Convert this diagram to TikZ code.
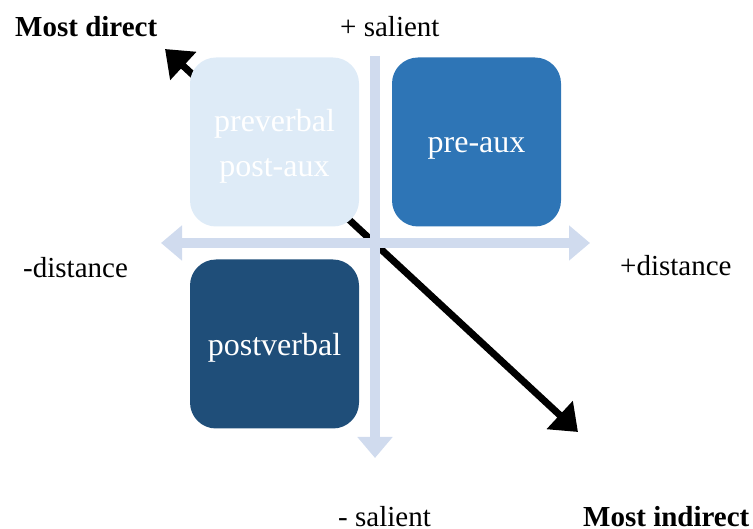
\documentclass[tikz,border=0pt]{standalone}
\usepackage{fontspec}
\setmainfont{Liberation Serif}
\usetikzlibrary{arrows.meta}

\definecolor{axisblue}{HTML}{D0DBEE}
\definecolor{palebox}{HTML}{DEEBF7}
\definecolor{midbox}{HTML}{2E75B6}
\definecolor{darkbox}{HTML}{1F4E79}

\tikzset{
  qbox/.style={draw=none, rounded corners=26pt, inner sep=0pt,
    minimum width=169pt, minimum height=169pt},
  boxtext/.style={text=white, inner sep=0pt, align=center,
    font=\fontsize{32}{45}\selectfont},
  axislabel/.style={inner sep=0pt, anchor=base west,
    font=\fontsize{29}{34}\selectfont},
  endlabel/.style={axislabel, font=\fontsize{29}{34}\selectfont\bfseries},
  axisline/.style={draw=axisblue, line width=9.5pt,
    -{Triangle[length=21pt,width=34pt]}},
  trendarrow/.style={draw=black, line width=7pt,
    {Triangle[length=25pt,width=37pt]}-{Triangle[length=25pt,width=37pt]}}
}

\begin{document}
\begin{tikzpicture}[x=1pt, y=-1pt]
  \useasboundingbox (0,0) rectangle (753,529);

  % end points of the diagonal trend and of the two axes
  \coordinate (directTip)   at (165,49);
  \coordinate (indirectTip) at (578,432);
  \coordinate (vTop)    at (375,56);
  \coordinate (vBottom) at (375,458);
  \coordinate (hLeft)   at (161,243);
  \coordinate (hRight)  at (590,243);

  % diagonal trend arrow, lying under the axes and boxes
  \draw[trendarrow] (directTip) -- (indirectTip);

  % axes
  \draw[axisline] (vTop) -- (vBottom);
  \draw[axisline, {Triangle[length=21pt,width=34pt]}-{Triangle[length=21pt,width=34pt]}] (hLeft) -- (hRight);

  % quadrant boxes
  \node[qbox, fill=palebox] (prev) at (274.5,142) {};
  \node[qbox, fill=midbox]  (preaux) at (476.5,142) {};
  \node[qbox, fill=darkbox] (postv) at (274.5,344) {};

  % box texts
  \node[boxtext] (prevtext) at (274.5,146) {preverbal\\post-aux};
  \node[boxtext, anchor=base] (preauxtext) at (476.5,153) {pre-aux};
  \node[boxtext, anchor=base] (postvtext) at (274.5,356) {postverbal};

  % axis labels
  \node[endlabel]  (mostdirect)   at (15,37)  {Most direct};
  \node[axislabel] (plussalient)  at (340,37) {+ salient};
  \node[axislabel] (minusdist)    at (23,278) {-distance};
  \node[axislabel] (plusdist)     at (620,276) {+distance};
  \node[axislabel] (minussalient) at (338,526) {- salient};
  \node[endlabel]  (mostindirect) at (583,526) {Most indirect};
\end{tikzpicture}
\end{document}
